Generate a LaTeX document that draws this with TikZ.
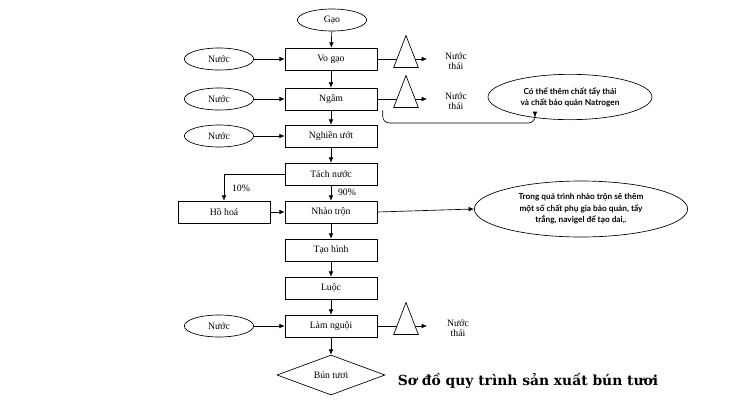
\documentclass[tikz,border=0pt]{standalone}
\usepackage{fontspec}
\setmainfont{Liberation Serif}
\newfontfamily\notefont{Lato}
\newfontfamily\titlefont{DejaVu Serif}
\usetikzlibrary{shapes.geometric}
\usetikzlibrary{arrows.meta}
\begin{document}
\tikzset{
  proc/.style={draw,minimum width=69pt,minimum height=16.5pt,inner sep=0pt,font=\fontsize{7.3}{8}\selectfont},
  water/.style={draw,ellipse,minimum width=52pt,minimum height=16.5pt,inner sep=0pt,font=\fontsize{7.3}{8}\selectfont},
  filter/.style={draw,isosceles triangle,shape border rotate=90,isosceles triangle apex angle=42,minimum height=24pt,inner sep=0pt},
  note/.style={draw,ellipse,inner sep=0pt,align=center,font=\notefont\bfseries\fontsize{6.2}{8.5}\selectfont},
  lbl/.style={font=\fontsize{7.3}{8}\selectfont,align=center},
  flow/.style={-{Latex[length=4pt,width=3.5pt]}},
}
\begin{tikzpicture}[x=0.75pt,y=0.75pt,yscale=-1,xscale=1,line width=0.5pt]
\useasboundingbox (0,0) rectangle (750,400);

% main column
\node[water] (gao) at (332,20) {Gạo};
\node[proc] (vogao) at (331,59) {Vo gạo};
\node[proc] (ngam) at (331,99) {Ngâm};
\node[proc] (nghien) at (331,136) {Nghiền ướt};
\node[proc] (tach) at (331,174) {Tách nước};
\node[proc] (nhao) at (331,212) {Nhào trộn};
\node[proc] (taohinh) at (331,250) {Tạo hình};
\node[proc] (luoc) at (331,288) {Luộc};
\node[proc] (lamnguoi) at (331,326) {Làm nguội};
\node[draw,diamond,aspect=2.7,minimum width=81pt,minimum height=30pt,inner sep=0pt,font=\fontsize{7.3}{8}\selectfont] (bun) at (331,375) {Bún tươi};

% side inputs
\node[water] (nuoc1) at (219,59) {Nước};
\node[water] (nuoc2) at (219,99) {Nước};
\node[water] (nuoc3) at (219,136) {Nước};
\node[water] (nuoc4) at (219,326) {Nước};
\node[proc] (hohoa) at (224,212) {Hồ hoá};

% waste water
\node[filter] (tri1) at (406,59) {};
\node[filter] (tri2) at (406,99) {};
\node[filter] (tri3) at (406,326) {};
\coordinate (end1) at (427,59);
\coordinate (end2) at (427,99);
\coordinate (end3) at (427,326);
\node[lbl] (thai1) at (456,61) {Nước\\thái};
\node[lbl] (thai2) at (456,101) {Nước\\thái};
\node[lbl] (thai3) at (458,328) {Nước\\thái};

% notes
\node[note,minimum width=123pt,minimum height=34pt] (note1) at (570,97) {Có thể thêm chất tẩy thái\\và chất bảo quản Natrogen};
\node[note,minimum width=160pt,minimum height=42pt] (note2) at (581,209) {Trong quá trình nhào trộn sẽ thêm\\một số chất phụ gia bảo quản, tẩy\\trắng, navigel để tạo dai,.};
\coordinate (nbend) at (535,123);
\coordinate (ntip) at (535,117);

% flow
\draw[flow] (gao) -- (vogao);
\draw[flow] (vogao) -- (ngam);
\draw[flow] (ngam) -- (nghien);
\draw[flow] (nghien) -- (tach);
\draw[flow] (tach) -- (nhao);
\draw[flow] (nhao) -- (taohinh);
\draw[flow] (taohinh) -- (luoc);
\draw[flow] (luoc) -- (lamnguoi);
\draw[flow] (lamnguoi) -- (bun);
\draw[flow] (nuoc1) -- (vogao);
\draw[flow] (nuoc2) -- (ngam);
\draw[flow] (nuoc3) -- (nghien);
\draw[flow] (nuoc4) -- (lamnguoi);
\draw[flow] (hohoa) -- (nhao);
\draw[flow] (tach.west) -| (hohoa.north);
\draw (vogao) -- (tri1);
\draw (ngam) -- (tri2);
\draw (lamnguoi) -- (tri3);
\draw[flow] (tri1.east) -- (end1);
\draw[flow] (tri2.east) -- (end2);
\draw[flow] (tri3.east) -- (end3);
\draw[flow,rounded corners=5] ([xshift=4]ngam.south east) |- (nbend) -- (ntip);
\draw[flow] (nhao.east) -- (note2.west);

% labels
\node[lbl] (p10) at (241,188) {10\%};
\node[lbl] (p90) at (347,192) {90\%};
\node[font=\titlefont\bfseries\fontsize{10.4}{12}\selectfont] (title) at (528,381) {Sơ đồ quy trình sản xuất bún tươi};
\end{tikzpicture}
\end{document}
